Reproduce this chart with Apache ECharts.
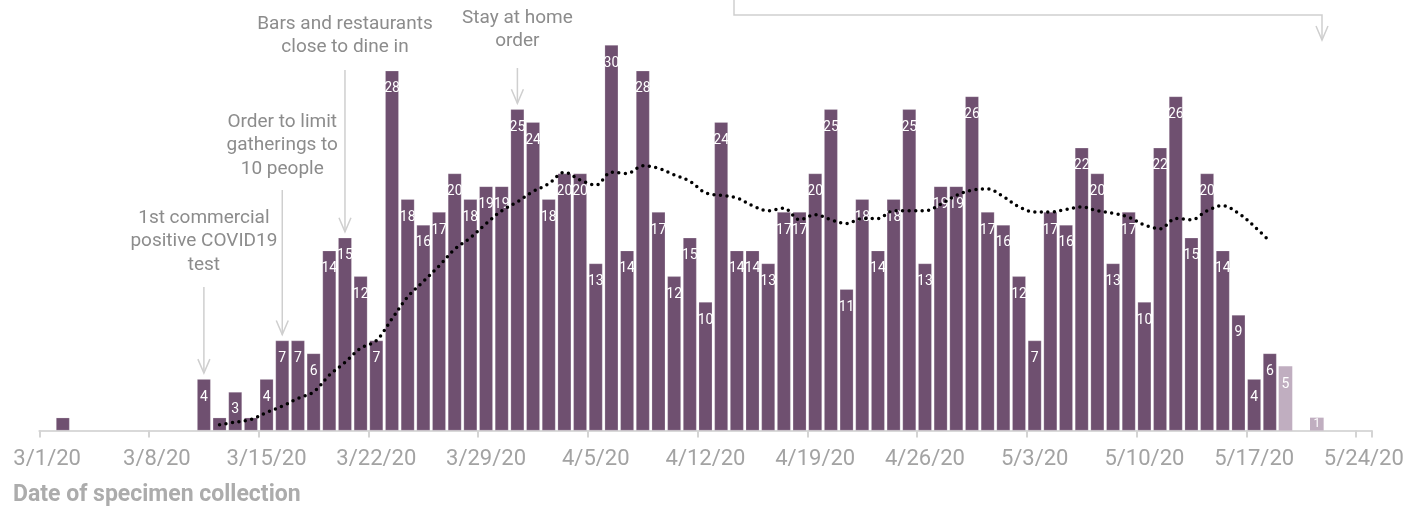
<!DOCTYPE html>
<html>
<head>
<meta charset="utf-8">
<script src="https://cdn.jsdelivr.net/npm/echarts@6/dist/echarts.min.js"></script>
<style>
	html, body { margin: 0; padding: 0; background: #fff; }
	#chart { width: 1426px; height: 508px; }
</style>
</head>
<body>
<div id="chart"></div>
<script>
//Days on the axis, 3/1/20 .. 5/24/20
const days = [];
for (let i = 0; i < 85; i++) {
	let d = new Date(2020, 2, 1 + i);
	days.push(`${d.getMonth() + 1}/${d.getDate()}/20`);
}

//Daily cases by date of specimen collection (null = none)
const confirmed = [
	null, 1, null, null, null, null, null, null, null, null, //3/1 - 3/10
	4, 1, 3, 1, 4, 7, 7, 6, 14, 15, //3/11 - 3/20
	12, 7, 28, 18, 16, 17, 20, 18, 19, 19, 25, //3/21 - 3/31
	24, 18, 20, 20, 13, 30, 14, 28, 17, 12, //4/1 - 4/10
	15, 10, 24, 14, 14, 13, 17, 17, 20, 25, //4/11 - 4/20
	11, 18, 14, 18, 25, 13, 19, 19, 26, 17, //4/21 - 4/30
	16, 12, 7, 17, 16, 22, 20, 13, 17, 10, //5/1 - 5/10
	22, 26, 15, 20, 14, 9, 4, 6, null, null, //5/11 - 5/20
	null, null, null, null //5/21 - 5/24
];
//Recent days, counts still incomplete (lighter bars)
const incomplete = [
	null, null, null, null, null, null, null, null, null, null,
	null, null, null, null, null, null, null, null, null, null,
	null, null, null, null, null, null, null, null, null, null, null,
	null, null, null, null, null, null, null, null, null, null,
	null, null, null, null, null, null, null, null, null, null,
	null, null, null, null, null, null, null, null, null, null,
	null, null, null, null, null, null, null, null, null, null,
	null, null, null, null, null, null, null, null, 5, null,
	1, null, null, null
];
//Rolling average (dotted line)
const rollingAvg = [
	null, null, null, null, null, null, null, null, null, null,
	null, 0.45, 0.65, 0.85, 1.4, 1.9, 2.5, 3.0, 4.3, 5.3,
	6.4, 7.0, 8.7, 10.4, 11.6, 12.8, 14.1, 15.0, 16.1, 17.1, 17.8,
	18.6, 19.2, 20.1, 19.5, 19.1, 20.1, 20.0, 20.6, 20.4, 19.9,
	19.4, 18.5, 18.3, 18.1, 17.5, 17.1, 17.3, 16.4, 16.8, 16.4,
	16.1, 16.5, 16.5, 17.1, 17.1, 17.1, 17.6, 18.3, 18.7, 18.8,
	18.2, 17.4, 17.0, 17.0, 17.2, 17.4, 17.1, 16.9, 16.6, 16.0,
	15.7, 16.5, 16.4, 17.1, 17.5, 16.9, 15.9, 14.7, null, null,
	null, null, null, null
];

//Annotations: day pointed at, text, centre of first text line, top of arrow line
const annotations = [
	{ day: "3/11/20", text: "1st commercial\npositive COVID19\ntest", text_y: 218, line_top: 287 },
	{ day: "3/16/20", text: "Order to limit\ngatherings to\n10 people", text_y: 122, line_top: 190 },
	{ day: "3/20/20", text: "Bars and restaurants\nclose to dine in", text_y: 24, line_top: 70 },
	{ day: "3/31/20", text: "Stay at home\norder", text_y: 18, line_top: 68 }
];

const bar_colour = "#6f5070";
const light_colour = "#c0aec0";
const grey_line = "#cfcfcf";
const line_height = 23.5;

let chart = echarts.init(document.getElementById("chart"), null, { renderer: "canvas" });

let label_style = {
	show: true,
	position: "insideTop",
	distance: 11,
	color: "#fff",
	fontSize: 14,
	fontFamily: "'Liberation Sans Narrow', 'Roboto', sans-serif",
	formatter: (p) => (p.value > 1 || p.seriesIndex === 1) ? p.value : ""
};

//Very short bars keep their label inside the bar
let toItems = (arr) => arr.map((v) => (v !== null && v <= 1) ?
	{ value: v, label: { distance: 0, fontSize: 12 } } : v);

chart.setOption({
	animation: false,
	title: {
		text: "Date of specimen collection",
		left: 8,
		top: 479,
		textStyle: {
			color: "#acacac",
			fontSize: 23,
			fontWeight: "bold",
			fontFamily: "'Liberation Sans Narrow', 'Roboto', sans-serif"
		}
	},
	grid: { left: 39.3, right: 54.3, top: 45, bottom: 77.5 },
	xAxis: {
		type: "category",
		data: days,
		boundaryGap: true,
		axisLine: { lineStyle: { color: "#d9d9d9", width: 2 } },
		axisTick: { show: true, interval: 6, length: 7, lineStyle: { color: "#d4d4d4", width: 2 } },
		axisLabel: {
			interval: 6,
			color: "#a3a3a3",
			fontSize: 22,
			margin: 18,
			fontFamily: "Roboto, sans-serif"
		}
	},
	yAxis: { type: "value", min: 0, max: 30, show: false, splitLine: { show: false } },
	series: [
		{
			type: "bar",
			data: toItems(confirmed),
			barCategoryGap: "13%",
			itemStyle: { color: bar_colour, borderColor: "rgba(255,255,255,0.35)", borderWidth: 0.6 },
			label: label_style
		},
		{
			type: "bar",
			data: toItems(incomplete),
			barGap: "-100%",
			barCategoryGap: "13%",
			itemStyle: { color: light_colour },
			label: label_style
		},
		{
			type: "line",
			data: rollingAvg,
			smooth: 0.35,
			showSymbol: false,
			symbol: "none",
			lineStyle: { color: "#000", width: 3.5, type: [0, 6.5], cap: "round" },
			z: 5
		}
	]
});

//Draw annotations at the positions of the bars they point at
let graphics = [];
annotations.forEach((local_note) => {
	let idx = days.indexOf(local_note.day);
	let x = chart.convertToPixel({ xAxisIndex: 0 }, local_note.day);
	let tip = chart.convertToPixel({ yAxisIndex: 0 }, confirmed[idx]) - 6;
	graphics.push({
		type: "text",
		x: x,
		y: local_note.text_y - line_height/2,
		style: {
			text: local_note.text,
			fill: "#8c8c8c",
			fontSize: 19,
			fontFamily: "Roboto, sans-serif",
			lineHeight: line_height,
			align: "center",
			verticalAlign: "top"
		}
	});
	graphics.push({
		type: "line",
		shape: { x1: x, y1: local_note.line_top, x2: x, y2: tip },
		style: { stroke: grey_line, lineWidth: 1.5 }
	});
	graphics.push({
		type: "polyline",
		shape: { points: [[x - 6, tip - 14], [x, tip], [x + 6, tip - 14]] },
		style: { stroke: grey_line, lineWidth: 1.5, fill: null }
	});
});

//Bracket at the top right, pointing to the incomplete days
graphics.push({
	type: "polyline",
	shape: { points: [[734, 0], [734, 15], [1322, 15], [1322, 40]] },
	style: { stroke: grey_line, lineWidth: 1.5, fill: null }
});
graphics.push({
	type: "polyline",
	shape: { points: [[1316, 26], [1322, 40], [1328, 26]] },
	style: { stroke: grey_line, lineWidth: 1.5, fill: null }
});

chart.setOption({ graphic: graphics });
</script>
</body>
</html>
